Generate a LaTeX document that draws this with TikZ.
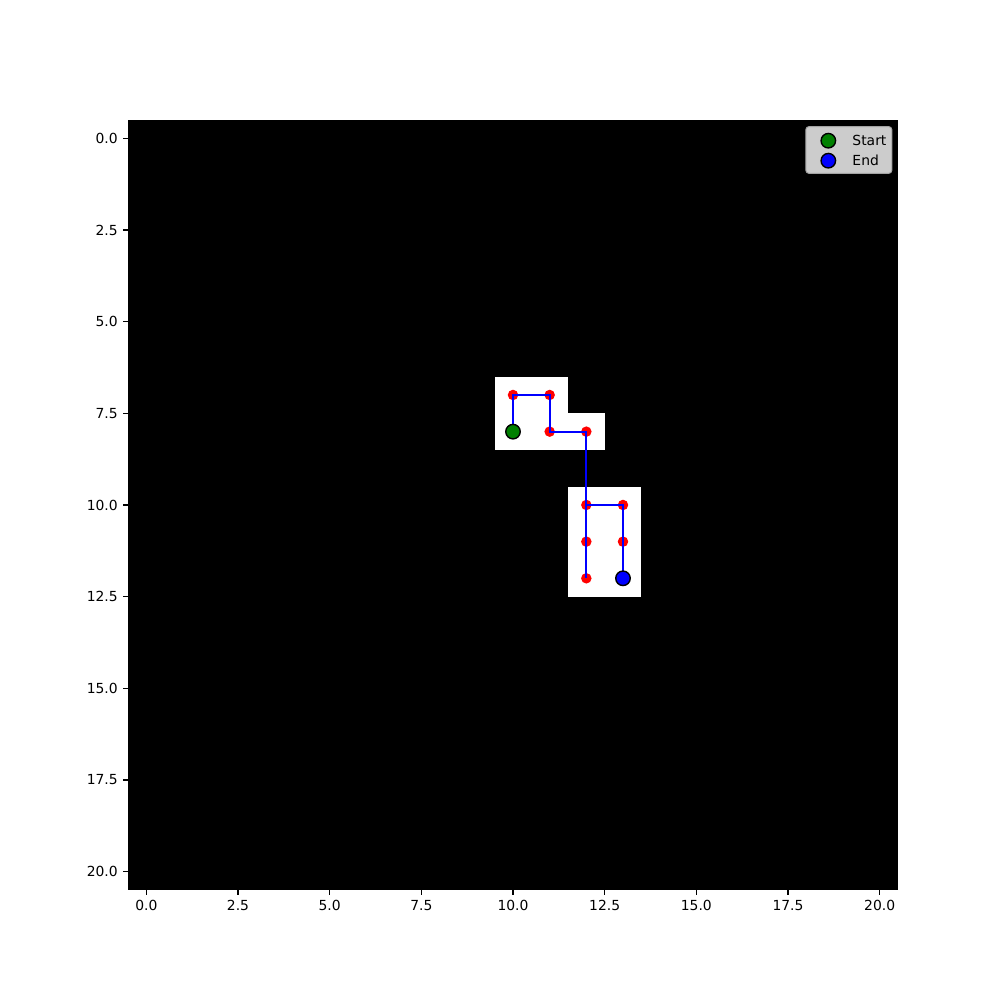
\documentclass[tikz,border=0pt]{standalone}
\usepackage{fontspec}
\setmainfont{DejaVu Sans}
\usetikzlibrary{positioning}

\begin{document}
\begin{tikzpicture}[
  x=0.36667cm, y=-0.36667cm,
  font=\fontsize{3.95}{4.7}\selectfont,
  visited/.style={fill=white, draw=none},
  waypt/.style={circle, fill=red, minimum size=0.105cm, inner sep=0pt},
  endpt/.style={circle, draw=black, line width=0.4pt, minimum size=0.145cm, inner sep=0pt},
  route/.style={blue, line width=0.65pt},
  axtick/.style={black, line width=0.32pt},
  ticklab/.style={inner sep=0pt},
  legendbox/.style={draw=white!64!black, fill=white!80!black, line width=0.28pt, rounded corners=0.028cm},
]
  \useasboundingbox (-3.991,-3.7726) rectangle (23.282,23.50);

  % --- grid image ---
  \fill[black] (-0.5,-0.5) rectangle (20.5,20.5);
  \foreach \c/\r in {10/7,11/7,10/8,11/8,12/8,12/10,13/10,12/11,13/11,12/12,13/12}
    \fill[visited] (\c-0.5,\r-0.5) rectangle ++(1,1);

  % --- visited points ---
  \foreach \c/\r in {10/7,11/7,11/8,12/8,12/10,13/10,13/11,12/11,12/12}
    \node[waypt] (c\c r\r) at (\c,\r) {};
  \coordinate (startpt) at (10,8);
  \coordinate (endpt) at (13,12);

  % --- path ---
  \draw[route] (startpt) -- (c10r7.center) -- (c11r7.center) -- (c11r8.center)
    -- (c12r8.center) -- (c12r10.center) -- (c12r11.center) -- (c12r12.center);
  \draw[route] (c12r10.center) -- (c13r10.center) -- (c13r11.center) -- (endpt);

  % --- start / end markers ---
  \node[endpt, fill=green!50!black] (start) at (startpt) {};
  \node[endpt, fill=blue] (end) at (endpt) {};

  % --- axes ticks ---
  \foreach \v [count=\i] in {0.0,2.5,5.0,7.5,10.0,12.5,15.0,17.5,20.0} {
    \draw[axtick] (\v,20.5) -- ++(0,0.1325) node[ticklab, below=0.0486cm] (xl\i) {\v};
    \draw[axtick] (-0.5,\v) -- ++(-0.1325,0) node[ticklab, left=0.0486cm] (yl\i) {\v};
  }

  % --- legend ---
  \draw[legendbox] (17.99,-0.317) rectangle (20.33,0.954);
  \node[endpt, fill=green!50!black] (lgstart) at (18.6,0.065) {};
  \node[endpt, fill=blue] (lgend) at (18.6,0.610) {};
  \node[ticklab, right=0.155cm of lgstart] (lgstarttxt) {Start};
  \node[ticklab, right=0.155cm of lgend] (lgendtxt) {End};
\end{tikzpicture}
\end{document}
